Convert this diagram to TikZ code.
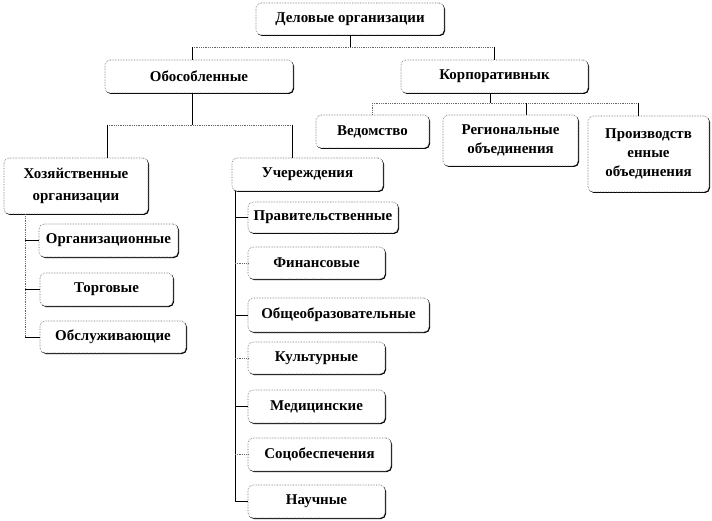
\documentclass[tikz,border=0pt]{standalone}
\usepackage{fontspec}
\setmainfont{Liberation Serif}
\usetikzlibrary{shadows}
\tikzset{
  box/.style={draw=black!60, densely dotted, line width=0.6bp, rounded corners=5bp, fill=white,
    align=center, inner sep=1bp, font=\fontsize{15}{19}\selectfont\bfseries,
    drop shadow={shadow xshift=1bp, shadow yshift=-1bp, fill=black, opacity=1}},
  vl/.style={draw=black, line width=0.7bp},
  hl/.style={draw=black!60, densely dotted, line width=0.8bp},
}
\begin{document}
\begin{tikzpicture}[x=1bp,y=-1bp]
\useasboundingbox (0,0) rectangle (712,521);
% top level
\node[box, minimum width=188bp, minimum height=32bp] (top) at (350,19) {Деловые организации};
\node[box, minimum width=188bp, minimum height=33bp] (obos) at (199,76.5) {Обособленные};
\node[box, minimum width=187bp, minimum height=33bp] (korp) at (494.5,76.5) {Корпоративнык};
% corporate children
\node[box, minimum width=113bp, minimum height=33bp] (ved) at (372.5,131.5) {Ведомство};
\node[box, minimum width=135bp, minimum height=51bp] (reg) at (510.5,140.5) {Региональные\\объединения};
\node[box, minimum width=121bp, minimum height=76bp] (proizv) at (648.5,154) {Производств\\енные\\объединения};
% separate children
\node[box, minimum width=144bp, minimum height=56bp, font=\fontsize{15}{22}\selectfont\bfseries] (hoz) at (76,186) {Хозяйственные\\организации};
\node[box, minimum width=151bp, minimum height=33bp] (uch) at (307.5,174.5) {Учереждения};
% economic children
\node[box, minimum width=139bp, minimum height=33bp] (org) at (108.5,240.5) {Организационные};
\node[box, minimum width=133bp, minimum height=33bp] (torg) at (106.5,289.5) {Торговые};
\node[box, minimum width=146bp, minimum height=32bp] (obsl) at (113,337) {Обслуживающие};
% institution children
\node[box, minimum width=150bp, minimum height=31bp] (prav) at (323,217.5) {Правительственные};
\node[box, minimum width=137bp, minimum height=32bp] (fin) at (316.5,263) {Финансовые};
\node[box, minimum width=181bp, minimum height=34bp] (obsch) at (338.5,315) {Общеобразовательные};
\node[box, minimum width=137bp, minimum height=32bp] (kult) at (316.5,358) {Культурные};
\node[box, minimum width=137bp, minimum height=33bp] (med) at (316.5,406.5) {Медицинские};
\node[box, minimum width=143bp, minimum height=33bp] (soc) at (319.5,454.5) {Соцобеспечения};
\node[box, minimum width=137bp, minimum height=33bp] (nauch) at (316.5,501.5) {Научные};
% junction coordinates
\coordinate (j1) at (350,47);
\coordinate (j1l) at (192,47);
\coordinate (j1r) at (494,47);
\coordinate (j2) at (192,125);
\coordinate (j2l) at (107,125);
\coordinate (j2r) at (292,125);
\coordinate (j3) at (490,103);
\coordinate (j3l) at (372,103);
\coordinate (j3m) at (526,103);
\coordinate (j3r) at (638,103);
\coordinate (lx) at (25,0);
\coordinate (rx) at (235,0);
% level 1
\draw[vl] (top.south) -- (j1);
\draw[hl] (j1l) -- (j1r);
\draw[vl] (j1l) -- (j1l |- obos.north);
\draw[vl] (j1r) -- (j1r |- korp.north);
% level 2 left
\draw[vl] (j2 |- obos.south) -- (j2);
\draw[hl] (j2l) -- (j2r);
\draw[vl] (j2l) -- (j2l |- hoz.north);
\draw[vl] (j2r) -- (j2r |- uch.north);
% level 2 right
\draw[vl] (j3 |- korp.south) -- (j3);
\draw[hl] (j3l) -- (j3r);
\draw[hl] (j3l) -- (j3l |- ved.north);
\draw[vl] (j3m) -- (j3m |- reg.north);
\draw[vl] (j3r) -- (j3r |- proizv.north);
% economic list
\draw[hl] (lx |- hoz.south) -- (lx |- obsl.west);
\draw[vl] (lx |- org.west) -- (org.west);
\draw[vl] (lx |- torg.west) -- (torg.west);
\draw[vl] (lx |- obsl.west) -- (obsl.west);
% institution list
\draw[vl] (rx |- uch.south) -- (rx |- nauch.west);
\draw[vl] (rx |- prav.west) -- (prav.west);
\draw[hl] (rx |- fin.west) -- (fin.west);
\draw[vl] (rx |- obsch.west) -- (obsch.west);
\draw[hl] (rx |- kult.west) -- (kult.west);
\draw[vl] (rx |- med.west) -- (med.west);
\draw[hl] (rx |- soc.west) -- (soc.west);
\draw[vl] (rx |- nauch.west) -- (nauch.west);
\end{tikzpicture}
\end{document}
